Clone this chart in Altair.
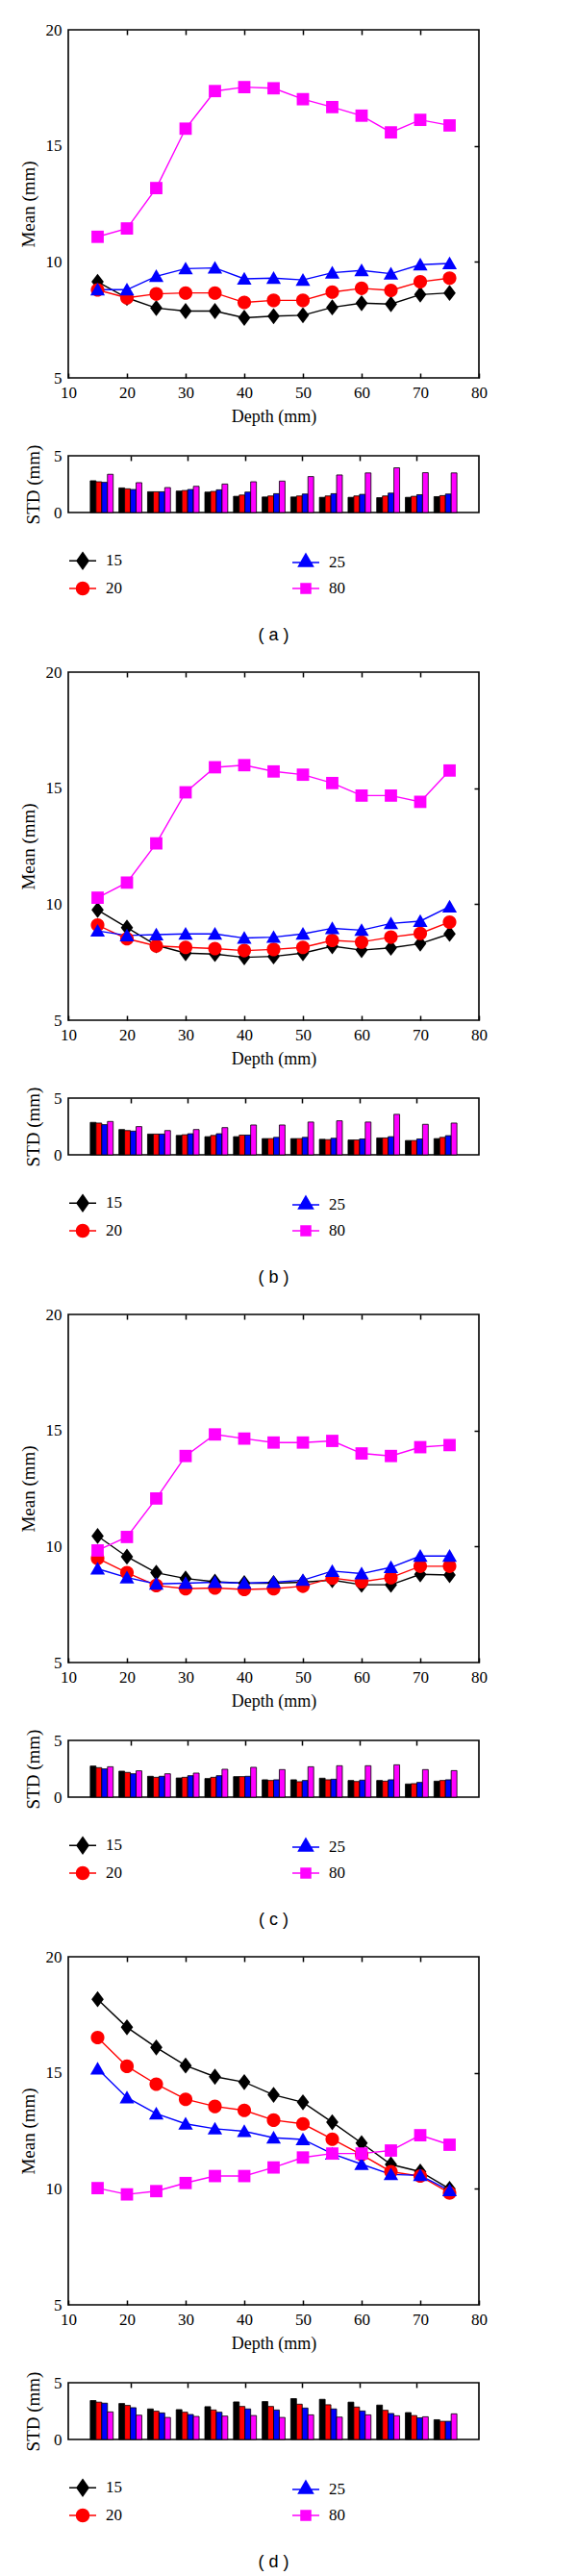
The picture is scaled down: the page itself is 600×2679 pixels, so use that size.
import altair as alt
import pandas as pd

# ---------------- data ----------------
DEPTH = [15, 20, 25, 30, 35, 40, 45, 50, 55, 60, 65, 70, 75]
SERIES = ["15", "20", "25", "80"]
COLORS = ["#000000", "#ff0000", "#0000ff", "#ff00ff"]
X_TICKS = [10, 20, 30, 40, 50, 60, 70, 80]
INNER_X_TICKS = [20, 30, 40, 50, 60, 70]
MEAN_TICKS = [5, 10, 15, 20]
RIGHT_TICKS = [10, 15]
STD_TICKS = [0, 5]
CAPTIONS = ["( a )", "( b )", "( c )", "( d )"]

# panel (a)
A_MEAN_15 = [9.14, 8.45, 8.01, 7.88, 7.88, 7.59, 7.66, 7.70, 8.04, 8.22, 8.18, 8.59, 8.66]
A_MEAN_20 = [8.79, 8.45, 8.62, 8.66, 8.66, 8.25, 8.34, 8.34, 8.70, 8.86, 8.77, 9.14, 9.30]
A_MEAN_25 = [8.80, 8.80, 9.38, 9.71, 9.74, 9.27, 9.30, 9.22, 9.53, 9.63, 9.49, 9.88, 9.93]
A_MEAN_80 = [11.08, 11.44, 13.18, 15.74, 17.36, 17.53, 17.48, 17.01, 16.67, 16.30, 15.58, 16.12, 15.88]
A_STD_15 = [2.80, 2.17, 1.83, 1.89, 1.80, 1.43, 1.37, 1.37, 1.34, 1.34, 1.31, 1.34, 1.40]
A_STD_20 = [2.71, 2.09, 1.83, 1.94, 1.86, 1.54, 1.46, 1.46, 1.46, 1.46, 1.46, 1.43, 1.49]
A_STD_25 = [2.66, 2.03, 1.83, 2.03, 2.00, 1.80, 1.66, 1.63, 1.66, 1.60, 1.71, 1.57, 1.63]
A_STD_80 = [3.37, 2.63, 2.20, 2.31, 2.51, 2.71, 2.77, 3.17, 3.31, 3.49, 3.94, 3.51, 3.49]

# panel (b)
B_MEAN_15 = [9.75, 8.99, 8.23, 7.89, 7.85, 7.71, 7.75, 7.89, 8.19, 8.02, 8.12, 8.30, 8.72]
B_MEAN_20 = [9.10, 8.51, 8.20, 8.14, 8.09, 8.00, 8.05, 8.14, 8.44, 8.37, 8.58, 8.74, 9.23]
B_MEAN_25 = [8.85, 8.65, 8.69, 8.72, 8.72, 8.54, 8.58, 8.72, 8.96, 8.88, 9.17, 9.27, 9.89]
B_MEAN_80 = [10.28, 10.93, 12.62, 14.82, 15.90, 15.99, 15.72, 15.58, 15.22, 14.68, 14.68, 14.41, 15.76]
B_STD_15 = [2.86, 2.23, 1.83, 1.71, 1.60, 1.60, 1.43, 1.43, 1.37, 1.31, 1.49, 1.26, 1.43]
B_STD_20 = [2.80, 2.14, 1.83, 1.77, 1.71, 1.74, 1.43, 1.43, 1.34, 1.31, 1.49, 1.26, 1.54]
B_STD_25 = [2.66, 2.09, 1.83, 1.86, 1.86, 1.74, 1.54, 1.54, 1.46, 1.40, 1.60, 1.40, 1.69]
B_STD_80 = [2.94, 2.49, 2.14, 2.23, 2.40, 2.63, 2.63, 2.89, 3.00, 2.89, 3.57, 2.69, 2.80]

# panel (c)
C_MEAN_15 = [10.45, 9.56, 8.87, 8.62, 8.48, 8.42, 8.42, 8.46, 8.55, 8.35, 8.35, 8.80, 8.77]
C_MEAN_20 = [9.49, 8.87, 8.32, 8.18, 8.21, 8.15, 8.18, 8.29, 8.64, 8.48, 8.66, 9.15, 9.15]
C_MEAN_25 = [9.04, 8.66, 8.39, 8.42, 8.46, 8.42, 8.46, 8.55, 8.94, 8.83, 9.10, 9.59, 9.59]
C_MEAN_80 = [9.83, 10.41, 12.07, 13.90, 14.83, 14.65, 14.48, 14.48, 14.55, 14.01, 13.90, 14.28, 14.37]
C_STD_15 = [2.74, 2.29, 1.84, 1.69, 1.64, 1.81, 1.53, 1.53, 1.67, 1.47, 1.47, 1.16, 1.41]
C_STD_20 = [2.60, 2.18, 1.75, 1.75, 1.75, 1.81, 1.47, 1.36, 1.53, 1.38, 1.41, 1.19, 1.47]
C_STD_25 = [2.49, 2.06, 1.84, 1.89, 1.89, 1.84, 1.53, 1.47, 1.58, 1.50, 1.53, 1.30, 1.53]
C_STD_80 = [2.68, 2.32, 2.06, 2.12, 2.46, 2.63, 2.43, 2.68, 2.77, 2.77, 2.85, 2.43, 2.34]

# panel (d)
D_MEAN_15 = [18.17, 16.96, 16.09, 15.31, 14.83, 14.60, 14.05, 13.73, 12.87, 11.97, 11.05, 10.74, 10.00]
D_MEAN_20 = [16.52, 15.28, 14.51, 13.86, 13.55, 13.38, 12.96, 12.80, 12.14, 11.47, 10.74, 10.55, 9.82]
D_MEAN_25 = [15.17, 13.93, 13.24, 12.80, 12.59, 12.48, 12.20, 12.13, 11.51, 11.06, 10.62, 10.58, 9.93]
D_MEAN_80 = [10.03, 9.76, 9.90, 10.25, 10.55, 10.55, 10.92, 11.35, 11.52, 11.52, 11.65, 12.31, 11.90]
D_STD_15 = [3.43, 3.17, 2.69, 2.63, 2.89, 3.31, 3.34, 3.60, 3.54, 3.29, 3.03, 2.37, 1.74]
D_STD_20 = [3.29, 3.00, 2.49, 2.40, 2.60, 2.91, 2.91, 3.11, 3.06, 2.86, 2.57, 2.11, 1.60]
D_STD_25 = [3.20, 2.80, 2.34, 2.20, 2.40, 2.69, 2.60, 2.77, 2.69, 2.51, 2.29, 1.91, 1.60]
D_STD_80 = [2.43, 2.14, 1.94, 2.03, 2.06, 2.11, 1.94, 2.17, 1.97, 2.17, 2.09, 2.00, 2.26]

PANEL_MEANS = [
    [A_MEAN_15, A_MEAN_20, A_MEAN_25, A_MEAN_80],
    [B_MEAN_15, B_MEAN_20, B_MEAN_25, B_MEAN_80],
    [C_MEAN_15, C_MEAN_20, C_MEAN_25, C_MEAN_80],
    [D_MEAN_15, D_MEAN_20, D_MEAN_25, D_MEAN_80],
]
PANEL_STDS = [
    [A_STD_15, A_STD_20, A_STD_25, A_STD_80],
    [B_STD_15, B_STD_20, B_STD_25, B_STD_80],
    [C_STD_15, C_STD_20, C_STD_25, C_STD_80],
    [D_STD_15, D_STD_20, D_STD_25, D_STD_80],
]

# ---------------- styling ----------------
SERIF = "Liberation Serif"
SANS = "Liberation Sans"
W, HM, HS = 427, 362, 59

# marker paths (unit = sqrt(size)/2)
PLOT_SHAPES = [
    "M0,-1.05L0.8,0L0,1.05L-0.8,0Z",
    "M-0.88,0A0.88,0.88,0,1,1,0.88,0A0.88,0.88,0,1,1,-0.88,0Z",
    "M0,-0.9L0.95,0.75L-0.95,0.75Z",
    "M-0.8,-0.8H0.8V0.8H-0.8Z",
]
LEGEND_PATHS = [
    "M-1.4,0H1.4M0,-0.85L0.6,0L0,0.85L-0.6,0Z",
    "M-1.4,0H1.4M-0.65,0A0.65,0.65,0,1,1,0.65,0A0.65,0.65,0,1,1,-0.65,0Z",
    "M-1.4,0H1.4M0,-0.9L0.75,0.4L-0.75,0.4Z",
    "M-1.4,0H1.4M-0.5,-0.5H0.5V0.5H-0.5Z",
]

XS = alt.Scale(domain=[10, 80], nice=False, zero=False)
YS = alt.Scale(domain=[5, 20], nice=False, zero=False)
SS = alt.Scale(domain=[0, 5], nice=False)
CS = alt.Scale(domain=SERIES, range=COLORS)

TICK = dict(tickSize=5, tickWidth=1.5, tickColor="black", domain=False, grid=False)


def long_table(cols, name):
    rows = []
    for i, (s, vals) in enumerate(zip(SERIES, cols)):
        for d, v in zip(DEPTH, vals):
            rows.append({"depth": d, "series": s, "idx": i, name: v})
    return pd.DataFrame(rows)


def mean_chart(df):
    base = alt.Chart(df)
    lines = base.mark_line(strokeWidth=1.4).encode(
        x=alt.X("depth:Q", scale=XS, axis=alt.Axis(
            orient="bottom", values=X_TICKS, title="Depth (mm)", offset=-5,
            labelPadding=7, titlePadding=8, labelFlush=False, labelOverlap=False, **TICK)),
        y=alt.Y("mean:Q", scale=YS, axis=alt.Axis(
            orient="left", values=MEAN_TICKS, title="Mean (mm)", ticks=False,
            domain=False, grid=False, labelPadding=7, titlePadding=8, titleFontSize=19)),
        color=alt.Color("series:N", scale=CS, legend=None),
    )
    pts = base.mark_point(filled=True, opacity=1, size=256).encode(
        x=alt.X("depth:Q", scale=XS, axis=alt.Axis(
            orient="top", values=INNER_X_TICKS, labels=False, title=None, offset=-5, **TICK)),
        y=alt.Y("mean:Q", scale=YS, axis=alt.Axis(
            orient="right", values=RIGHT_TICKS, labels=False, title=None, offset=-5, **TICK)),
        color=alt.Color("series:N", scale=CS, legend=None),
        shape=alt.Shape("series:N", scale=alt.Scale(domain=SERIES, range=PLOT_SHAPES), legend=None),
    )
    return alt.layer(lines, pts).resolve_axis(x="independent", y="independent").properties(
        width=W, height=HM)


def std_chart(df, caption):
    base = alt.Chart(df)
    bars = base.transform_calculate(
        x0="datum.depth - 2 + datum.idx", x1="datum.depth - 1 + datum.idx", base="0"
    ).mark_bar(orient="vertical", stroke="black", strokeWidth=0.8, opacity=1).encode(
        x=alt.X("x0:Q", scale=XS, axis=alt.Axis(
            orient="top", values=INNER_X_TICKS, labels=False, title=None, offset=-5, **TICK)),
        x2="x1:Q",
        y=alt.Y("std:Q", scale=SS, axis=alt.Axis(
            orient="left", values=STD_TICKS, title="STD (mm)", ticks=False, domain=False,
            grid=False, labelPadding=7, titlePadding=11, titleFontSize=19)),
        y2="base:Q",
        color=alt.Color("series:N", scale=CS, legend=None),
    )
    leg = alt.Legend(
        title=None, orient="none", legendX=4, legendY=98, columns=2, columnPadding=174,
        rowPadding=6, symbolSize=400, symbolStrokeWidth=1.5, symbolOpacity=1,
        labelFont=SERIF, labelFontSize=17, labelColor="black", labelOffset=13, padding=0,
    )
    lscale_c = alt.Scale(domain=SERIES, range=COLORS)
    lscale_s = alt.Scale(domain=SERIES, range=LEGEND_PATHS)
    legend_layer = base.transform_filter("false").mark_point(opacity=1, strokeWidth=1.5).encode(
        fill=alt.Fill("series:N", scale=lscale_c, legend=leg),
        stroke=alt.Stroke("series:N", scale=lscale_c, legend=leg),
        shape=alt.Shape("series:N", scale=lscale_s, legend=leg),
    )
    return alt.layer(bars, legend_layer).properties(
        width=W, height=HS,
        title=alt.TitleParams(caption, orient="bottom", anchor="middle", frame="group",
                              offset=30, font=SANS, fontSize=18, fontWeight="normal",
                              color="black"),
    )


panels = []
for means, stds, cap in zip(PANEL_MEANS, PANEL_STDS, CAPTIONS):
    m = mean_chart(long_table(means, "mean"))
    s = std_chart(long_table(stds, "std"), cap)
    p = alt.vconcat(m, s, spacing=81, bounds="flush").resolve_scale(
        shape="independent", fill="independent", stroke="independent"
    ).resolve_legend(shape="independent", fill="independent", stroke="independent")
    panels.append(p)

chart = alt.vconcat(*panels, spacing=18).resolve_scale(
    shape="independent", fill="independent", stroke="independent", color="independent"
).resolve_legend(
    shape="independent", fill="independent", stroke="independent", color="independent"
).properties(
    padding={"left": 11, "top": 13, "right": 5, "bottom": 5}
).configure_view(
    stroke="black", strokeWidth=1.6
).configure_axis(
    labelFont=SERIF, labelFontSize=17, labelColor="black",
    titleFont=SERIF, titleFontSize=18, titleFontWeight="normal", titleColor="black",
)

chart.save("out.html", embed_options={"renderer": "svg", "actions": False})
